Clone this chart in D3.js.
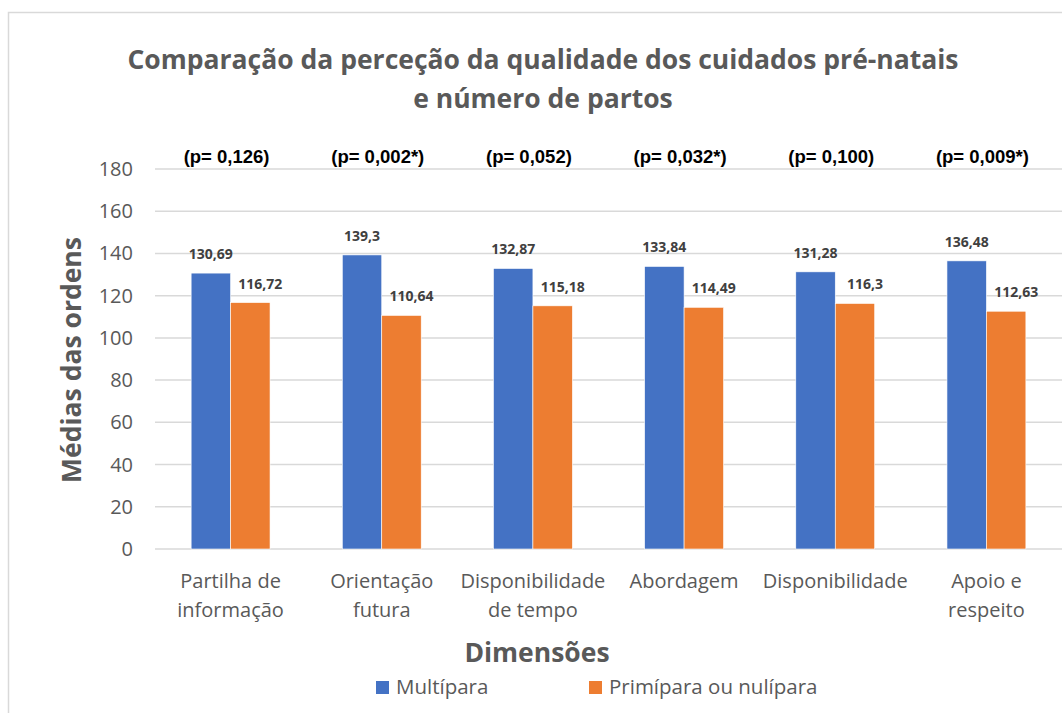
<!DOCTYPE html>
<html>
<head>
<meta charset="utf-8">
<script src="https://cdn.jsdelivr.net/npm/d3@7"></script>
<style>
  body { margin: 0; background: #fff; }
  svg { display: block; }
</style>
</head>
<body>
<svg id="chart"></svg>
<script>
// chart data
const categories = [
  ["Partilha de", "informação"],
  ["Orientação", "futura"],
  ["Disponibilidade", "de tempo"],
  ["Abordagem"],
  ["Disponibilidade"],
  ["Apoio e", "respeito"]
];
const seriesNames = ["Multípara", "Primípara ou nulípara"];
const multipara = [130.69, 139.3, 132.87, 133.84, 131.28, 136.48];
const primipara = [116.72, 110.64, 115.18, 114.49, 116.3, 112.63];
const pValues = ["(p= 0,126)", "(p= 0,002*)", "(p= 0,052)", "(p= 0,032*)", "(p= 0,100)", "(p= 0,009*)"];
const yTicks = [0, 20, 40, 60, 80, 100, 120, 140, 160, 180];

const width = 1062;
const height = 713;
const colors = ["#4472C4", "#ED7D31"];
const grey = "#595959";

const svg = d3.select('#chart')
  .attr('width', width)
  .attr('height', height);

// outer frame, cut by the picture edge
svg.append('rect')
  .attr('x', 8.5).attr('y', 12.5)
  .attr('width', 1200).attr('height', 900)
  .attr('fill', 'none')
  .attr('stroke', '#d9d9d9')
  .attr('stroke-width', 1.5);

const plot = { left: 155, right: 1062, top: 169, bottom: 549 };

const x = d3.scaleBand()
  .domain(d3.range(categories.length))
  .range([plot.left, plot.right])
  .paddingInner(0.478)
  .paddingOuter(0.239);

const xSub = d3.scaleBand()
  .domain([0, 1])
  .range([0, x.bandwidth()]);

const y = d3.scaleLinear()
  .domain([0, 180])
  .range([plot.bottom, plot.top]);

// gridlines
svg.append('g')
  .selectAll('line')
  .data(yTicks)
  .enter()
  .append('line')
  .attr('x1', plot.left).attr('x2', plot.right)
  .attr('y1', d => y(d)).attr('y2', d => y(d))
  .attr('stroke', '#d9d9d9')
  .attr('stroke-width', 1.5);

// y tick labels
svg.append('g')
  .selectAll('text')
  .data(yTicks)
  .enter()
  .append('text')
  .attr('x', 133)
  .attr('y', d => y(d) + 7)
  .attr('text-anchor', 'end')
  .attr('font-family', 'Open Sans')
  .attr('font-size', 20)
  .attr('fill', grey)
  .text(d => d);

// bars
const series = [multipara, primipara];
series.forEach(function(values, s) {
  svg.append('g')
    .selectAll('rect')
    .data(values)
    .enter()
    .append('rect')
    .attr('x', (d, i) => x(i) + xSub(s))
    .attr('y', d => y(d))
    .attr('width', xSub.bandwidth())
    .attr('height', d => y(0) - y(d))
    .attr('fill', colors[s])
    .attr('stroke', '#fff')
    .attr('stroke-width', 0.6);

  // value labels (comma decimal)
  svg.append('g')
    .selectAll('text')
    .data(values)
    .enter()
    .append('text')
    .attr('x', (d, i) => x(i) + xSub(s) + xSub.bandwidth() / 2 + (s === 1 ? 10 : 0))
    .attr('y', d => y(d) - 14)
    .attr('text-anchor', 'middle')
    .attr('font-family', 'Open Sans')
    .attr('font-weight', 'bold')
    .attr('font-size', 14)
    .attr('fill', '#404040')
    .text(d => String(d).replace('.', ','));
});

// p-values above each group
svg.append('g')
  .selectAll('text')
  .data(pValues)
  .enter()
  .append('text')
  .attr('x', (d, i) => x(i) + x.bandwidth() / 2 - 4)
  .attr('y', 163)
  .attr('text-anchor', 'middle')
  .attr('font-family', 'Liberation Sans')
  .attr('font-weight', 'bold')
  .attr('font-size', 18.5)
  .attr('fill', '#000')
  .text(d => d);

// category labels
const catLabels = svg.append('g')
  .selectAll('text')
  .data(categories)
  .enter()
  .append('text')
  .attr('text-anchor', 'middle')
  .attr('font-family', 'Open Sans')
  .attr('font-size', 20)
  .attr('fill', grey);

catLabels.each(function(lines, i) {
  const t = d3.select(this);
  lines.forEach(function(line, j) {
    t.append('tspan')
      .attr('x', x(i) + x.bandwidth() / 2)
      .attr('y', 588 + j * 29)
      .text(line);
  });
});

// title
const title = svg.append('text')
  .attr('text-anchor', 'middle')
  .attr('font-family', 'Open Sans')
  .attr('font-weight', 'bold')
  .attr('font-size', 26.5)
  .attr('fill', grey);
title.append('tspan').attr('x', 543).attr('y', 69)
  .text('Comparação da perceção da qualidade dos cuidados pré-natais');
title.append('tspan').attr('x', 543).attr('y', 108)
  .text('e número de partos');

// axis titles
svg.append('text')
  .attr('transform', 'translate(81,360) rotate(-90)')
  .attr('text-anchor', 'middle')
  .attr('font-family', 'Open Sans')
  .attr('font-weight', 'bold')
  .attr('font-size', 26.5)
  .attr('fill', grey)
  .text('Médias das ordens');

svg.append('text')
  .attr('x', 537)
  .attr('y', 662)
  .attr('text-anchor', 'middle')
  .attr('font-family', 'Open Sans')
  .attr('font-weight', 'bold')
  .attr('font-size', 26.5)
  .attr('fill', grey)
  .text('Dimensões');

// legend
const legendX = [376, 589];
const legend = svg.append('g')
  .selectAll('g')
  .data(seriesNames)
  .enter()
  .append('g')
  .attr('transform', (d, i) => `translate(${legendX[i]}, 681)`);

legend.append('rect')
  .attr('width', 13).attr('height', 13)
  .attr('fill', (d, i) => colors[i]);

legend.append('text')
  .attr('x', 20)
  .attr('y', 13)
  .attr('font-family', 'Open Sans')
  .attr('font-size', 20.5)
  .attr('fill', grey)
  .text(d => d);
</script>
</body>
</html>
